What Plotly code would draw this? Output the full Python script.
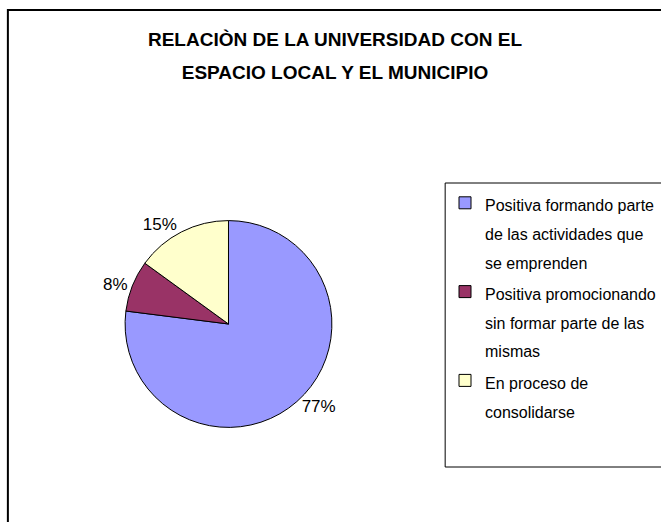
import plotly.graph_objects as go

categories = [
    "Positiva formando parte<br>de las actividades que<br>se emprenden",
    "Positiva promocionando<br>sin formar parte de las<br>mismas",
    "En proceso de<br>consolidarse",
]
values = [77, 8, 15]
colors = ["#9999FF", "#993366", "#FFFFCC"]
title_lines = ["RELACIÒN DE LA UNIVERSIDAD CON EL", "ESPACIO LOCAL Y EL MUNICIPIO"]

FONT = "Liberation Sans Narrow, Arial Narrow, Liberation Sans, Arial, sans-serif"
W, H = 661, 522


def wrap(text, size):
    return "<br>".join(f"<span style='font-size:{size}px'>{p}</span>" for p in text.split("<br>"))


legend_labels = [wrap(c, 16) for c in categories]

cx, cy, r = 232, 324, 105
fig = go.Figure(
    go.Pie(
        labels=legend_labels,
        values=values,
        sort=False,
        direction="clockwise",
        rotation=0,
        marker=dict(colors=colors, line=dict(color="black", width=1)),
        textinfo="percent",
        textposition="outside",
        texttemplate="%{percent:.0%}",
        outsidetextfont=dict(family=FONT, size=17, color="black"),
        domain=dict(x=[(cx - r) / W, (cx + r) / W], y=[(H - cy - r) / H, (H - cy + r) / H]),
        hoverinfo="skip",
    )
)

fig.update_layout(
    width=W,
    height=H,
    margin=dict(l=0, r=0, t=0, b=0),
    paper_bgcolor="white",
    plot_bgcolor="white",
    font=dict(family=FONT, color="black"),
    title=dict(
        text="<b>" + wrap("<br>".join(title_lines), 19) + "</b>",
        x=335 / W,
        xanchor="center",
        y=1 - 46 / H,
        yanchor="top",
        font=dict(family=FONT, size=25, color="black"),
    ),
    legend=dict(
        x=452 / W,
        xanchor="left",
        y=1 - 182 / H,
        yanchor="top",
        valign="top",
        font=dict(family=FONT, size=22, color="black"),
        borderwidth=0,
        bgcolor="rgba(0,0,0,0)",
    ),
    shapes=[
        dict(
            type="rect", xref="paper", yref="paper",
            x0=8 / W, x1=1.05, y0=-0.05, y1=1 - 10 / H,
            line=dict(color="black", width=2), fillcolor="rgba(0,0,0,0)", layer="below",
        ),
        dict(
            type="rect", xref="paper", yref="paper",
            x0=452 / W, x1=1.05, y0=1 - 467 / H, y1=1 - 183 / H,
            line=dict(color="black", width=1), fillcolor="rgba(0,0,0,0)", layer="below",
        ),
    ],
    showlegend=True,
)

fig.write_html(
    "out.html",
    config={"displayModeBar": False},
    post_script="document.body.style.margin='0';",
)
